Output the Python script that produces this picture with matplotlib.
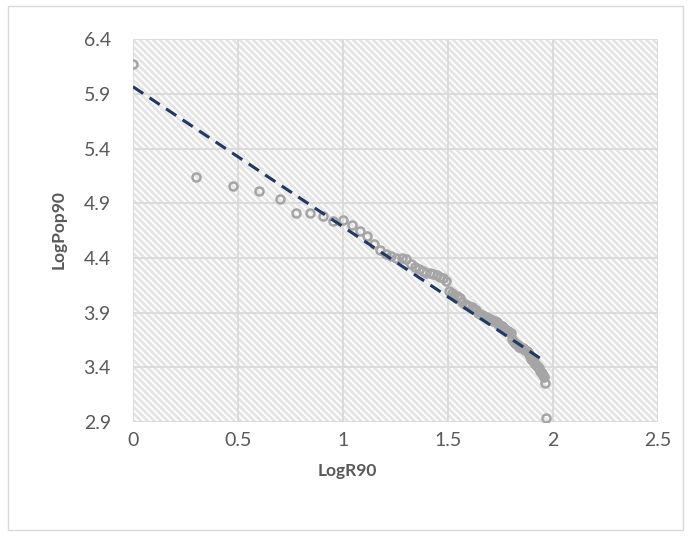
# %% Rank-size scatter with linear trendline (Excel style)

# %% Imports
import matplotlib.pyplot as plt
import numpy as np
from matplotlib.patches import Rectangle

# %% Data
log_r90 = [0.000, 0.301, 0.477, 0.602, 0.699, 0.778, 0.845, 0.903, 0.954, 1.000,
           1.041, 1.079, 1.114, 1.146, 1.176, 1.204, 1.230, 1.255, 1.279, 1.301,
           1.322, 1.342, 1.362, 1.380, 1.398, 1.415, 1.431, 1.447, 1.462, 1.477,
           1.491, 1.505, 1.519, 1.531, 1.544, 1.556, 1.568, 1.580, 1.591, 1.602,
           1.613, 1.623, 1.633, 1.643, 1.653, 1.663, 1.672, 1.681, 1.690, 1.699,
           1.708, 1.716, 1.724, 1.732, 1.740, 1.748, 1.756, 1.763, 1.771, 1.778,
           1.785, 1.792, 1.799, 1.806, 1.813, 1.820, 1.826, 1.833, 1.839, 1.845,
           1.851, 1.857, 1.863, 1.869, 1.875, 1.881, 1.886, 1.892, 1.898, 1.903,
           1.908, 1.914, 1.919, 1.924, 1.929, 1.934, 1.940, 1.944, 1.949, 1.954,
           1.959, 1.964, 1.968]
log_pop90 = [6.17, 5.14, 5.06, 5.01, 4.94, 4.81, 4.81, 4.785, 4.74, 4.745,
             4.70, 4.65, 4.60, 4.53, 4.47, 4.44, 4.42, 4.40, 4.395, 4.39,
             4.34, 4.32, 4.30, 4.28, 4.265, 4.26, 4.25, 4.24, 4.23, 4.22,
             4.19, 4.10, 4.08, 4.06, 4.05, 4.03, 4.00, 3.98, 3.97, 3.96,
             3.95, 3.93, 3.92, 3.90, 3.89, 3.88, 3.87, 3.86, 3.85, 3.84,
             3.83, 3.82, 3.82, 3.81, 3.80, 3.79, 3.78, 3.77, 3.75, 3.74,
             3.73, 3.72, 3.71, 3.66, 3.63, 3.62, 3.61, 3.60, 3.59, 3.585,
             3.58, 3.575, 3.57, 3.56, 3.55, 3.54, 3.52, 3.50, 3.48, 3.46,
             3.45, 3.43, 3.42, 3.41, 3.40, 3.39, 3.37, 3.36, 3.35, 3.33,
             3.31, 3.26, 2.94]

x_ticks = [0, 0.5, 1, 1.5, 2, 2.5]
x_tick_labels = ['0', '0.5', '1', '1.5', '2', '2.5']
y_ticks = [2.9, 3.4, 3.9, 4.4, 4.9, 5.4, 5.9, 6.4]
y_tick_labels = ['2.9', '3.4', '3.9', '4.4', '4.9', '5.4', '5.9', '6.4']

# %% Linear trendline fitted to the points
x = np.array(log_r90)
y = np.array(log_pop90)
slope, intercept = np.polyfit(x, y, 1)
trend_x = np.array([x.min(), x.max()])
trend_y = intercept + slope * trend_x

# %% Figure
plt.rcParams['font.family'] = ['Lato', 'DejaVu Sans']
grid_col = '#d9d9d9'
text_col = '#595959'

fig = plt.figure(figsize=(6.91, 5.36), dpi=100)
# chart area border
fig.patches.append(Rectangle((0.012, 0.012), 0.976, 0.976, transform=fig.transFigure,
                             fill=False, edgecolor=grid_col, linewidth=1))

ax = fig.add_axes([0.1925, 0.2127, 0.7595, 0.7143])
ax.set_xlim(0, 2.5)
ax.set_ylim(2.9, 6.4)

# hatched plot area
plt.rcParams['hatch.color'] = '#e4e4e4'
plt.rcParams['hatch.linewidth'] = 2.0
ax.add_patch(Rectangle((0, 0), 1, 1, transform=ax.transAxes, facecolor='white',
                       edgecolor='#e4e4e4', hatch='\\\\\\\\\\', linewidth=0, zorder=0))

ax.set_xticks(x_ticks)
ax.set_xticklabels(x_tick_labels)
ax.set_yticks(y_ticks)
ax.set_yticklabels(y_tick_labels)
ax.grid(True, color=grid_col, linewidth=1.3, zorder=1)
ax.set_axisbelow(True)
for s in ax.spines.values():
    s.set_visible(False)
ax.tick_params(length=0, labelsize=14, labelcolor=text_col)
ax.tick_params(axis='y', pad=16)
ax.tick_params(axis='x', pad=7)

ax.plot(x, y, 'o', markerfacecolor='none', markeredgecolor='#a5a5a5',
        markersize=5.8, markeredgewidth=1.8, zorder=3)
ax.plot(trend_x, trend_y, color='#1f3864', linewidth=2.2, dashes=(4, 2.5), zorder=4)

# axis titles are centred on the chart area, like Excel does
fig.text(0.502, 0.121, 'LogR90', fontsize=12.5, fontweight='bold', color=text_col,
         ha='center', va='center')
fig.text(0.085, 0.571, 'LogPop90', fontsize=12.5, fontweight='bold', color=text_col,
         ha='center', va='center', rotation=90)

fig.savefig('out.png', dpi=100)
